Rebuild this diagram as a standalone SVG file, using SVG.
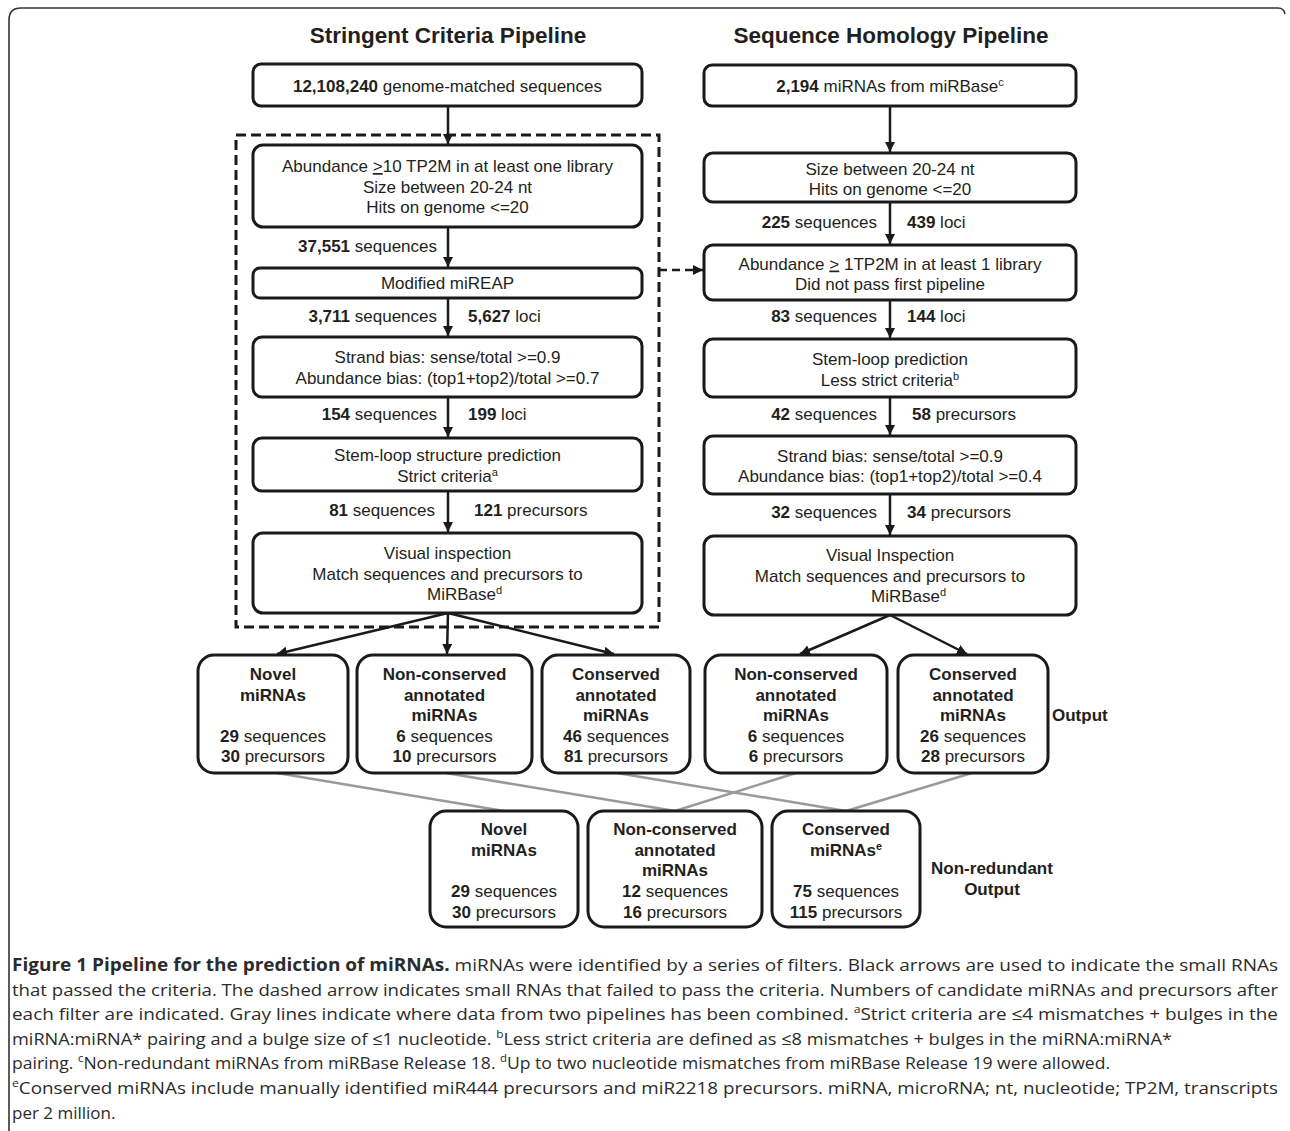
<svg xmlns="http://www.w3.org/2000/svg" width="1290" height="1131" viewBox="0 0 1290 1131">
<style>
.bg{fill:#fff}
.box{fill:#fff;stroke:#1a1a1a;stroke-width:3}
.t{font-family:"Liberation Sans",Arial,Helvetica,sans-serif;font-size:17px;fill:#231f20}
.m{text-anchor:middle}
.e{text-anchor:end}
.b{font-weight:bold}
.title{font-family:"Liberation Sans",Arial,Helvetica,sans-serif;font-size:22.5px;font-weight:bold;fill:#231f20;text-anchor:middle}
.arr{stroke:#1a1a1a;stroke-width:2.5;fill:none;marker-end:url(#ah)}
.dash{stroke:#1a1a1a;stroke-width:3;fill:none;stroke-dasharray:10 5}
.gray{stroke:#9a9a9a;stroke-width:2.5;fill:none}
.cap{font-family:"Open Sans","Noto Sans",sans-serif;font-size:17px;fill:#2b2b2b}
.frame{stroke:#333;stroke-width:1.6;fill:none}
</style>
<defs>
<marker id="ah" markerUnits="userSpaceOnUse" markerWidth="12" markerHeight="12" refX="10" refY="5" orient="auto">
<path d="M0,0 L10,5 L0,10 Z" fill="#1a1a1a"/>
</marker>
</defs>
<rect class="bg" x="0" y="0" width="1290" height="1131"/>
<path class="frame" d="M9,1131 L9,20 Q9,8 21,8 L1278,8 Q1284,8 1285,14"/>

<text class="title" x="448" y="43">Stringent Criteria Pipeline</text>
<text class="title" x="891" y="43">Sequence Homology Pipeline</text>

<g id="connectors">
<rect class="dash" x="236" y="135" width="423" height="492"/>
<line class="arr" x1="448" y1="106" x2="448" y2="144"/>
<line class="arr" x1="448" y1="227" x2="448" y2="267"/>
<line class="arr" x1="448" y1="298" x2="448" y2="336"/>
<line class="arr" x1="448" y1="397" x2="448" y2="437"/>
<line class="arr" x1="448" y1="491" x2="448" y2="532"/>
<line class="arr" x1="448" y1="613" x2="277" y2="654"/>
<line class="arr" x1="448" y1="613" x2="447" y2="654"/>
<line class="arr" x1="448" y1="613" x2="614" y2="654"/>
<line class="arr" x1="890" y1="106" x2="890" y2="152"/>
<line class="arr" x1="890" y1="202" x2="890" y2="244"/>
<line class="arr" x1="890" y1="300" x2="890" y2="338"/>
<line class="arr" x1="890" y1="397" x2="890" y2="435"/>
<line class="arr" x1="890" y1="494" x2="890" y2="535"/>
<line class="arr" x1="890" y1="615" x2="800" y2="654"/>
<line class="arr" x1="890" y1="615" x2="967" y2="654"/>
<line class="arr" x1="659" y1="270" x2="703" y2="270" stroke-dasharray="8 5"/>
<line class="gray" x1="277" y1="773" x2="504" y2="811"/>
<line class="gray" x1="446" y1="773" x2="675" y2="811"/>
<line class="gray" x1="617" y1="773" x2="846" y2="811"/>
<line class="gray" x1="796" y1="773" x2="675" y2="811"/>
<line class="gray" x1="972" y1="773" x2="846" y2="811"/>
</g>

<g id="s1">
<rect class="box" x="253" y="64" width="389" height="42" rx="8"/>
<text class="t m" x="447.5" y="92"><tspan class="b">12,108,240</tspan> genome-matched sequences</text>
</g>
<g id="s2">
<rect class="box" x="253" y="145" width="389" height="82" rx="10"/>
<text class="t m" x="447.5" y="172">Abundance <tspan text-decoration="underline">&gt;</tspan>10 TP2M in at least one library</text>
<text class="t m" x="447.5" y="192.5">Size between 20-24 nt</text>
<text class="t m" x="447.5" y="213">Hits on genome &lt;=20</text>
</g>
<text class="t e" x="437" y="252"><tspan class="b">37,551</tspan> sequences</text>
<g id="s3">
<rect class="box" x="253" y="268" width="389" height="30" rx="7"/>
<text class="t m" x="447.5" y="289">Modified miREAP</text>
</g>
<text class="t e" x="437" y="322"><tspan class="b">3,711</tspan> sequences</text>
<text class="t" x="468" y="322"><tspan class="b">5,627</tspan> loci</text>
<g id="s4">
<rect class="box" x="253" y="337" width="389" height="60" rx="9"/>
<text class="t m" x="447.5" y="363">Strand bias: sense/total &gt;=0.9</text>
<text class="t m" x="447.5" y="383.5">Abundance bias: (top1+top2)/total &gt;=0.7</text>
</g>
<text class="t e" x="437" y="419.5"><tspan class="b">154</tspan> sequences</text>
<text class="t" x="468" y="419.5"><tspan class="b">199</tspan> loci</text>
<g id="s5">
<rect class="box" x="253" y="438" width="389" height="53" rx="9"/>
<text class="t m" x="447.5" y="461">Stem-loop structure prediction</text>
<text class="t m" x="447.5" y="482">Strict criteria<tspan font-size="11" dy="-6">a</tspan></text>
</g>
<text class="t e" x="435" y="516"><tspan class="b">81</tspan> sequences</text>
<text class="t" x="474" y="516"><tspan class="b">121</tspan> precursors</text>
<g id="s6">
<rect class="box" x="253" y="533" width="389" height="80" rx="10"/>
<text class="t m" x="447.5" y="559">Visual inspection</text>
<text class="t m" x="447.5" y="579.5">Match sequences and precursors to</text>
<text class="t" x="427" y="600">MiRBase<tspan font-size="11" dy="-6">d</tspan></text>
</g>

<g id="h1">
<rect class="box" x="704" y="65" width="372" height="41" rx="8"/>
<text class="t m" x="890" y="92"><tspan class="b">2,194</tspan> miRNAs from miRBase<tspan font-size="11" dy="-6">c</tspan></text>
</g>
<g id="h2">
<rect class="box" x="704" y="153" width="372" height="49" rx="9"/>
<text class="t m" x="890" y="175">Size between 20-24 nt</text>
<text class="t m" x="890" y="195">Hits on genome &lt;=20</text>
</g>
<text class="t e" x="877" y="228"><tspan class="b">225</tspan> sequences</text>
<text class="t" x="907" y="228"><tspan class="b">439</tspan> loci</text>
<g id="h3">
<rect class="box" x="704" y="245" width="372" height="55" rx="9"/>
<text class="t m" x="890" y="269.5">Abundance <tspan text-decoration="underline">&gt;</tspan> 1TP2M in at least 1 library</text>
<text class="t m" x="890" y="290">Did not pass first pipeline</text>
</g>
<text class="t e" x="877" y="322"><tspan class="b">83</tspan> sequences</text>
<text class="t" x="907" y="322"><tspan class="b">144</tspan> loci</text>
<g id="h4">
<rect class="box" x="704" y="339" width="372" height="58" rx="9"/>
<text class="t m" x="890" y="365">Stem-loop prediction</text>
<text class="t m" x="890" y="385.5">Less strict criteria<tspan font-size="11" dy="-6">b</tspan></text>
</g>
<text class="t e" x="877" y="420"><tspan class="b">42</tspan> sequences</text>
<text class="t" x="912" y="420"><tspan class="b">58</tspan> precursors</text>
<g id="h5">
<rect class="box" x="704" y="436" width="372" height="58" rx="9"/>
<text class="t m" x="890" y="462">Strand bias: sense/total &gt;=0.9</text>
<text class="t m" x="890" y="482">Abundance bias: (top1+top2)/total &gt;=0.4</text>
</g>
<text class="t e" x="877" y="518"><tspan class="b">32</tspan> sequences</text>
<text class="t" x="907" y="518"><tspan class="b">34</tspan> precursors</text>
<g id="h6">
<rect class="box" x="704" y="536" width="372" height="79" rx="10"/>
<text class="t m" x="890" y="561">Visual Inspection</text>
<text class="t m" x="890" y="582">Match sequences and precursors to</text>
<text class="t" x="871" y="602">MiRBase<tspan font-size="11" dy="-6">d</tspan></text>
</g>

<g id="o1">
<rect class="box" x="198" y="655" width="150" height="118" rx="16"/>
<text class="t m b" x="273" y="680">Novel</text>
<text class="t m b" x="273" y="700.5">miRNAs</text>
<text class="t m" x="273" y="742"><tspan class="b">29</tspan> sequences</text>
<text class="t m" x="273" y="762"><tspan class="b">30</tspan> precursors</text>
</g>
<g id="o2">
<rect class="box" x="357" y="655" width="175" height="118" rx="16"/>
<text class="t m b" x="444.5" y="680">Non-conserved</text>
<text class="t m b" x="444.5" y="700.5">annotated</text>
<text class="t m b" x="444.5" y="721">miRNAs</text>
<text class="t m" x="444.5" y="742"><tspan class="b">6</tspan> sequences</text>
<text class="t m" x="444.5" y="762"><tspan class="b">10</tspan> precursors</text>
</g>
<g id="o3">
<rect class="box" x="542" y="655" width="148" height="118" rx="16"/>
<text class="t m b" x="616" y="680">Conserved</text>
<text class="t m b" x="616" y="700.5">annotated</text>
<text class="t m b" x="616" y="721">miRNAs</text>
<text class="t m" x="616" y="742"><tspan class="b">46</tspan> sequences</text>
<text class="t m" x="616" y="762"><tspan class="b">81</tspan> precursors</text>
</g>
<g id="o4">
<rect class="box" x="705" y="655" width="182" height="118" rx="16"/>
<text class="t m b" x="796" y="680">Non-conserved</text>
<text class="t m b" x="796" y="700.5">annotated</text>
<text class="t m b" x="796" y="721">miRNAs</text>
<text class="t m" x="796" y="742"><tspan class="b">6</tspan> sequences</text>
<text class="t m" x="796" y="762"><tspan class="b">6</tspan> precursors</text>
</g>
<g id="o5">
<rect class="box" x="898" y="655" width="150" height="118" rx="16"/>
<text class="t m b" x="973" y="680">Conserved</text>
<text class="t m b" x="973" y="700.5">annotated</text>
<text class="t m b" x="973" y="721">miRNAs</text>
<text class="t m" x="973" y="742"><tspan class="b">26</tspan> sequences</text>
<text class="t m" x="973" y="762"><tspan class="b">28</tspan> precursors</text>
</g>
<text class="t b" x="1052" y="721">Output</text>

<g id="n1">
<rect class="box" x="430" y="811" width="148" height="116" rx="16"/>
<text class="t m b" x="504" y="835">Novel</text>
<text class="t m b" x="504" y="855.5">miRNAs</text>
<text class="t m" x="504" y="897"><tspan class="b">29</tspan> sequences</text>
<text class="t m" x="504" y="917.5"><tspan class="b">30</tspan> precursors</text>
</g>
<g id="n2">
<rect class="box" x="588" y="811" width="174" height="116" rx="16"/>
<text class="t m b" x="675" y="835">Non-conserved</text>
<text class="t m b" x="675" y="855.5">annotated</text>
<text class="t m b" x="675" y="876">miRNAs</text>
<text class="t m" x="675" y="897"><tspan class="b">12</tspan> sequences</text>
<text class="t m" x="675" y="917.5"><tspan class="b">16</tspan> precursors</text>
</g>
<g id="n3">
<rect class="box" x="772" y="811" width="148" height="116" rx="16"/>
<text class="t m b" x="846" y="835">Conserved</text>
<text class="t m b" x="846" y="855.5">miRNAs<tspan font-size="11" dy="-6">e</tspan></text>
<text class="t m" x="846" y="897"><tspan class="b">75</tspan> sequences</text>
<text class="t m" x="846" y="917.5"><tspan class="b">115</tspan> precursors</text>
</g>
<text class="t m b" x="992" y="874">Non-redundant</text>
<text class="t m b" x="992" y="895">Output</text>

<g id="caption">
<text class="cap" x="12" y="971" textLength="1266" lengthAdjust="spacingAndGlyphs"><tspan font-weight="bold">Figure 1 Pipeline for the prediction of miRNAs.</tspan> miRNAs were identified by a series of filters. Black arrows are used to indicate the small RNAs</text>
<text class="cap" x="12" y="995.5" textLength="1266" lengthAdjust="spacingAndGlyphs">that passed the criteria. The dashed arrow indicates small RNAs that failed to pass the criteria. Numbers of candidate miRNAs and precursors after</text>
<text class="cap" x="12" y="1020" textLength="1266" lengthAdjust="spacingAndGlyphs">each filter are indicated. Gray lines indicate where data from two pipelines has been combined. <tspan font-size="11" dy="-7">a</tspan><tspan dy="7">Strict criteria are ≤4 mismatches + bulges in the</tspan></text>
<text class="cap" x="12" y="1044.5" textLength="1160" lengthAdjust="spacingAndGlyphs">miRNA:miRNA* pairing and a bulge size of ≤1 nucleotide. <tspan font-size="11" dy="-7">b</tspan><tspan dy="7">Less strict criteria are defined as ≤8 mismatches + bulges in the miRNA:miRNA*</tspan></text>
<text class="cap" x="12" y="1069" textLength="1098" lengthAdjust="spacingAndGlyphs">pairing. <tspan font-size="11" dy="-7">c</tspan><tspan dy="7">Non-redundant miRNAs from miRBase Release 18. </tspan><tspan font-size="11" dy="-7">d</tspan><tspan dy="7">Up to two nucleotide mismatches from miRBase Release 19 were allowed.</tspan></text>
<text class="cap" x="12" y="1094" textLength="1266" lengthAdjust="spacingAndGlyphs"><tspan font-size="11" dy="-7">e</tspan><tspan dy="7">Conserved miRNAs include manually identified miR444 precursors and miR2218 precursors. miRNA, microRNA; nt, nucleotide; TP2M, transcripts</tspan></text>
<text class="cap" x="12" y="1118.5">per 2 million.</text>
</g>
</svg>
